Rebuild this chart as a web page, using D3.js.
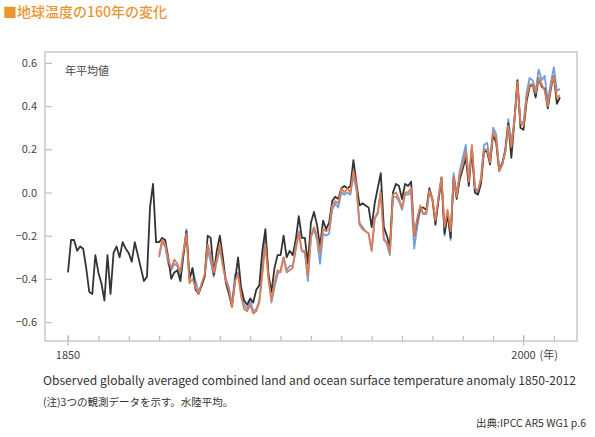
<!DOCTYPE html>
<html><head><meta charset="utf-8">
<script src="https://cdn.jsdelivr.net/npm/d3@7"></script>
<style>
html,body{margin:0;padding:0;background:#fff;}
text{font-family:"Noto Sans CJK JP","Noto Sans",sans-serif;}
</style></head>
<body><svg id="chart" width="595" height="437"></svg>
<script>
// ---- data ----
const hadStart = 1850;
const hadcrut = [
-0.37,-0.22,-0.22,-0.27,-0.25,-0.26,-0.35,-0.46,-0.47,-0.29,
-0.37,-0.42,-0.50,-0.29,-0.47,-0.28,-0.25,-0.30,-0.23,-0.26,
-0.28,-0.32,-0.23,-0.29,-0.35,-0.41,-0.39,-0.07,0.04,-0.23,
-0.23,-0.21,-0.22,-0.30,-0.40,-0.37,-0.36,-0.41,-0.29,-0.18,
-0.40,-0.35,-0.45,-0.47,-0.43,-0.39,-0.20,-0.21,-0.38,-0.27,
-0.20,-0.30,-0.42,-0.47,-0.53,-0.41,-0.30,-0.44,-0.50,-0.52,
-0.49,-0.51,-0.45,-0.43,-0.27,-0.17,-0.38,-0.46,-0.35,-0.29,
-0.29,-0.20,-0.30,-0.27,-0.29,-0.22,-0.11,-0.21,-0.21,-0.33,
-0.14,-0.09,-0.15,-0.25,-0.13,-0.17,-0.14,-0.04,-0.02,-0.03,
0.02,0.03,0.02,0.03,0.15,0.04,-0.06,-0.05,-0.06,-0.07,
-0.16,-0.05,0.02,0.09,-0.16,-0.20,-0.25,0.00,0.04,0.03,
-0.03,0.04,0.03,0.05,-0.20,-0.13,-0.07,-0.07,-0.08,0.02,
-0.03,-0.15,-0.03,0.07,-0.19,-0.10,-0.21,0.07,-0.03,0.06,
0.11,0.16,0.03,0.20,0.00,-0.01,0.04,0.19,0.19,0.13,
0.27,0.23,0.10,0.13,0.19,0.32,0.16,0.33,0.52,0.30,
0.29,0.42,0.49,0.50,0.44,0.53,0.49,0.48,0.39,0.48,
0.54,0.41,0.44];

const otherStart = 1880;
const noaa = [
-0.29,-0.22,-0.24,-0.31,-0.35,-0.31,-0.33,-0.37,-0.27,-0.19,
-0.42,-0.40,-0.44,-0.47,-0.42,-0.38,-0.24,-0.29,-0.37,-0.31,
-0.24,-0.34,-0.41,-0.45,-0.53,-0.41,-0.38,-0.48,-0.54,-0.55,
-0.52,-0.56,-0.55,-0.51,-0.38,-0.24,-0.40,-0.50,-0.42,-0.36,
-0.37,-0.30,-0.37,-0.36,-0.35,-0.25,-0.19,-0.27,-0.27,-0.39,
-0.20,-0.16,-0.20,-0.28,-0.17,-0.18,-0.17,-0.06,-0.04,-0.05,
0.02,0.00,0.02,0.00,0.10,0.03,-0.15,-0.17,-0.18,-0.19,
-0.27,-0.12,-0.10,0.00,-0.22,-0.23,-0.28,-0.01,0.00,-0.03,
-0.07,0.00,0.00,0.02,-0.20,-0.12,-0.06,-0.10,-0.09,0.01,
-0.03,-0.13,-0.02,0.07,-0.16,-0.08,-0.18,0.07,-0.02,0.08,
0.13,0.19,0.05,0.22,0.02,0.01,0.06,0.20,0.20,0.14,
0.28,0.25,0.10,0.13,0.19,0.31,0.21,0.33,0.51,0.32,
0.31,0.44,0.50,0.50,0.46,0.53,0.50,0.47,0.40,0.49,
0.54,0.44,0.45];

const giss = [
-0.30,-0.23,-0.25,-0.33,-0.36,-0.33,-0.34,-0.40,-0.29,-0.17,
-0.40,-0.35,-0.41,-0.46,-0.43,-0.39,-0.27,-0.32,-0.39,-0.32,
-0.26,-0.34,-0.40,-0.44,-0.52,-0.38,-0.37,-0.47,-0.52,-0.54,
-0.50,-0.55,-0.54,-0.50,-0.36,-0.19,-0.38,-0.51,-0.44,-0.38,
-0.36,-0.30,-0.36,-0.34,-0.34,-0.27,-0.18,-0.27,-0.28,-0.41,
-0.21,-0.17,-0.22,-0.33,-0.19,-0.20,-0.19,-0.08,-0.05,-0.07,
0.00,-0.01,0.00,-0.01,0.08,0.01,-0.14,-0.16,-0.18,-0.19,
-0.27,-0.12,-0.09,0.01,-0.21,-0.24,-0.29,-0.02,-0.02,-0.04,
-0.08,-0.01,-0.01,0.00,-0.26,-0.16,-0.08,-0.10,-0.10,0.00,
-0.03,-0.14,-0.04,0.06,-0.20,-0.09,-0.22,0.09,-0.01,0.10,
0.16,0.22,0.06,0.21,0.02,0.00,0.07,0.22,0.23,0.15,
0.30,0.27,0.11,0.14,0.20,0.34,0.23,0.34,0.50,0.33,
0.32,0.46,0.53,0.52,0.47,0.57,0.52,0.54,0.42,0.51,
0.58,0.47,0.48];

const yTicks = [-0.6,-0.4,-0.2,0.0,0.2,0.4,0.6];
const xMinorTicks = d3.range(1850, 2011, 10);
const xLabelYears = [1850, 2000];

const title = "■地球温度の160年の変化";
const seriesLabel = "年平均値";
const caption1 = "Observed globally averaged combined land and ocean surface temperature anomaly 1850-2012";
const caption2 = "(注)3つの観測データを示す。水陸平均。";
const source = "出典:IPCC AR5 WG1 p.6";

// ---- drawing ----
const svg = d3.select("#chart");
svg.append("rect").attr("width",595).attr("height",437).attr("fill","#fff");

const frame = {left:45, top:52, right:577, bottom:341};
const x = d3.scaleLinear().domain([1850,2000]).range([68,523.5]);
const y = d3.scaleLinear().domain([-0.6,0.6]).range([322.1,62.9]);

svg.append("text").attr("x",3).attr("y",17)
  .attr("font-size",14).attr("font-weight",500).attr("fill","#e8962f").text(title);

// frame
svg.append("rect").attr("x",frame.left).attr("y",frame.top)
  .attr("width",frame.right-frame.left).attr("height",frame.bottom-frame.top)
  .attr("fill","none").attr("stroke","#cdcdcd").attr("stroke-width",1.6);

// y axis
const yAxis = svg.append("g").attr("transform",`translate(${frame.left},0)`)
  .call(d3.axisLeft(y).tickValues(yTicks).tickSize(-7).tickPadding(8).tickFormat(d3.format(".1f")));
yAxis.select(".domain").remove();
yAxis.selectAll(".tick line").attr("stroke","#bdbdbd").attr("stroke-width",1.2);
yAxis.selectAll(".tick text").attr("font-size",11).attr("fill","#444")
  .attr("font-family","'Noto Sans CJK JP',sans-serif");

// x axis
const xAxis = svg.append("g").attr("transform",`translate(0,${frame.bottom})`)
  .call(d3.axisBottom(x).tickValues(xMinorTicks).tickSize(-5).tickFormat(""));
xAxis.select(".domain").remove();
xAxis.selectAll(".tick line").attr("stroke","#bdbdbd").attr("stroke-width",1.2);
svg.selectAll(".major").data(xLabelYears).enter().append("line")
  .attr("x1",d=>x(d)).attr("x2",d=>x(d)).attr("y1",frame.bottom-6).attr("y2",frame.bottom+5)
  .attr("stroke","#bdbdbd").attr("stroke-width",1.2);
svg.append("text").attr("x",x(1850)).attr("y",359).attr("text-anchor","middle")
  .attr("font-size",11).attr("fill","#444").text(String(xLabelYears[0]));
svg.append("text").attr("x",x(2000)).attr("y",359).attr("text-anchor","middle")
  .attr("font-size",11).attr("fill","#444").text(String(xLabelYears[1]));
svg.append("text").attr("x",x(2000)+16).attr("y",359)
  .attr("font-size",11).attr("fill","#444").text("(年)");

svg.append("text").attr("x",65).attr("y",75).attr("font-size",11).attr("fill","#444").text(seriesLabel);

// lines
const line = d3.line().x(d=>x(d[0])).y(d=>y(d[1]));
const toPts = (arr,start) => arr.map((v,i)=>[start+i,v]);
const series = [
  {data:toPts(giss,otherStart), color:"#6fa1dd"},
  {data:toPts(hadcrut,hadStart), color:"#333333"},
  {data:toPts(noaa,otherStart), color:"#dd7d55"}
];
svg.append("g").selectAll("path").data(series).enter().append("path")
  .attr("d",d=>line(d.data)).attr("fill","none").attr("stroke",d=>d.color)
  .attr("stroke-width",1.8).attr("stroke-linejoin","round");

// captions
svg.append("text").attr("x",43).attr("y",385).attr("font-size",12).attr("fill","#333")
  .attr("textLength",533).attr("lengthAdjust","spacingAndGlyphs").text(caption1);
svg.append("text").attr("x",43).attr("y",406).attr("font-size",10.5).attr("fill","#333").text(caption2);
svg.append("text").attr("x",586).attr("y",427).attr("text-anchor","end").attr("font-size",10.5).attr("fill","#333").text(source);
</script></body></html>
